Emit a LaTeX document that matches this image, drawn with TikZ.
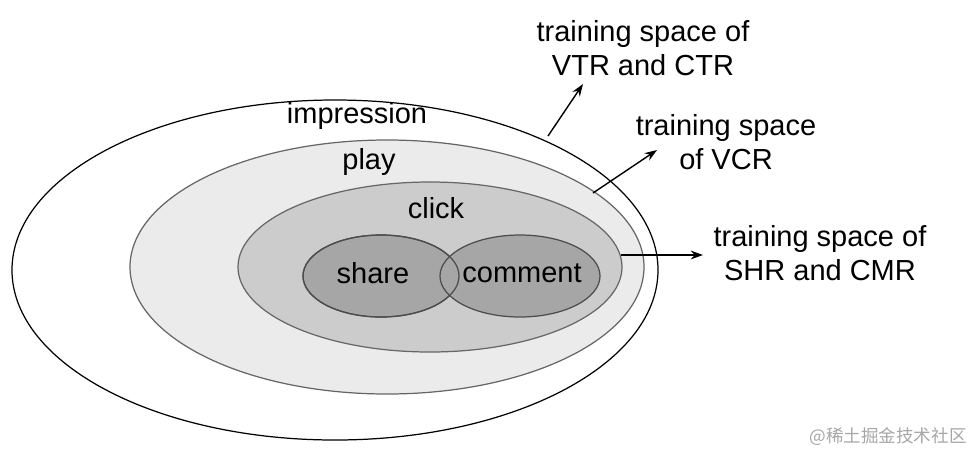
\documentclass[tikz,border=0pt]{standalone}
\usepackage{fontspec}
\setmainfont{Liberation Sans}
\newfontfamily\cjk{Noto Sans CJK SC}
\usetikzlibrary{arrows.meta}
\begin{document}
\begin{tikzpicture}[x=0.02cm,y=-0.02cm,
  set/.style={draw=black,line width=0.7pt},
  lab/.style={font=\fontsize{16.5}{19}\selectfont,align=center},
  arr/.style={-{Stealth[length=7pt,width=5pt]},line width=0.8pt}]
\useasboundingbox (0,0) rectangle (970,454);
\draw[set,fill=white] (335,270) ellipse [x radius=323,y radius=170];
\draw[set,draw=black!60,fill=black!8] (387,267) ellipse [x radius=257,y radius=127];
\draw[set,draw=black!60,fill=black!20] (430,267) ellipse [x radius=192,y radius=85];
\draw[set,draw=black!70,fill=black!35] (381,276) ellipse [x radius=78,y radius=41];
\draw[set,draw=black!70,fill=black!35] (520,276) ellipse [x radius=80,y radius=41];
\draw[set,draw=black!70] (381,276) ellipse [x radius=78,y radius=41];
\node[lab] (imp) at (357,116) {impression};
\node[lab] (play) at (369,162) {play};
\node[lab] (click) at (436,208) {click};
\node[lab] (share) at (373,273) {share};
\node[lab] (comm) at (522,273) {comment};
\node[lab] (t1) at (643,48) {training space of\\VTR and CTR};
\node[lab] (t2) at (726,142) {training space\\of VCR};
\node[lab] (t3) at (820,253) {training space of\\SHR and CMR};
\coordinate (s1) at (548,136); \coordinate (e1) at (583,84);
\coordinate (s2) at (593,193); \coordinate (e2) at (657,150);
\coordinate (s3) at (621,255); \coordinate (e3) at (703,255);
\draw[arr] (s1) -- (e1);
\draw[arr] (s2) -- (e2);
\draw[arr] (s3) -- (e3);
\node[font=\cjk\fontsize{10}{12}\selectfont,text=black!35] (wm) at (888,437) {@稀土掘金技术社区};
\end{tikzpicture}
\end{document}
